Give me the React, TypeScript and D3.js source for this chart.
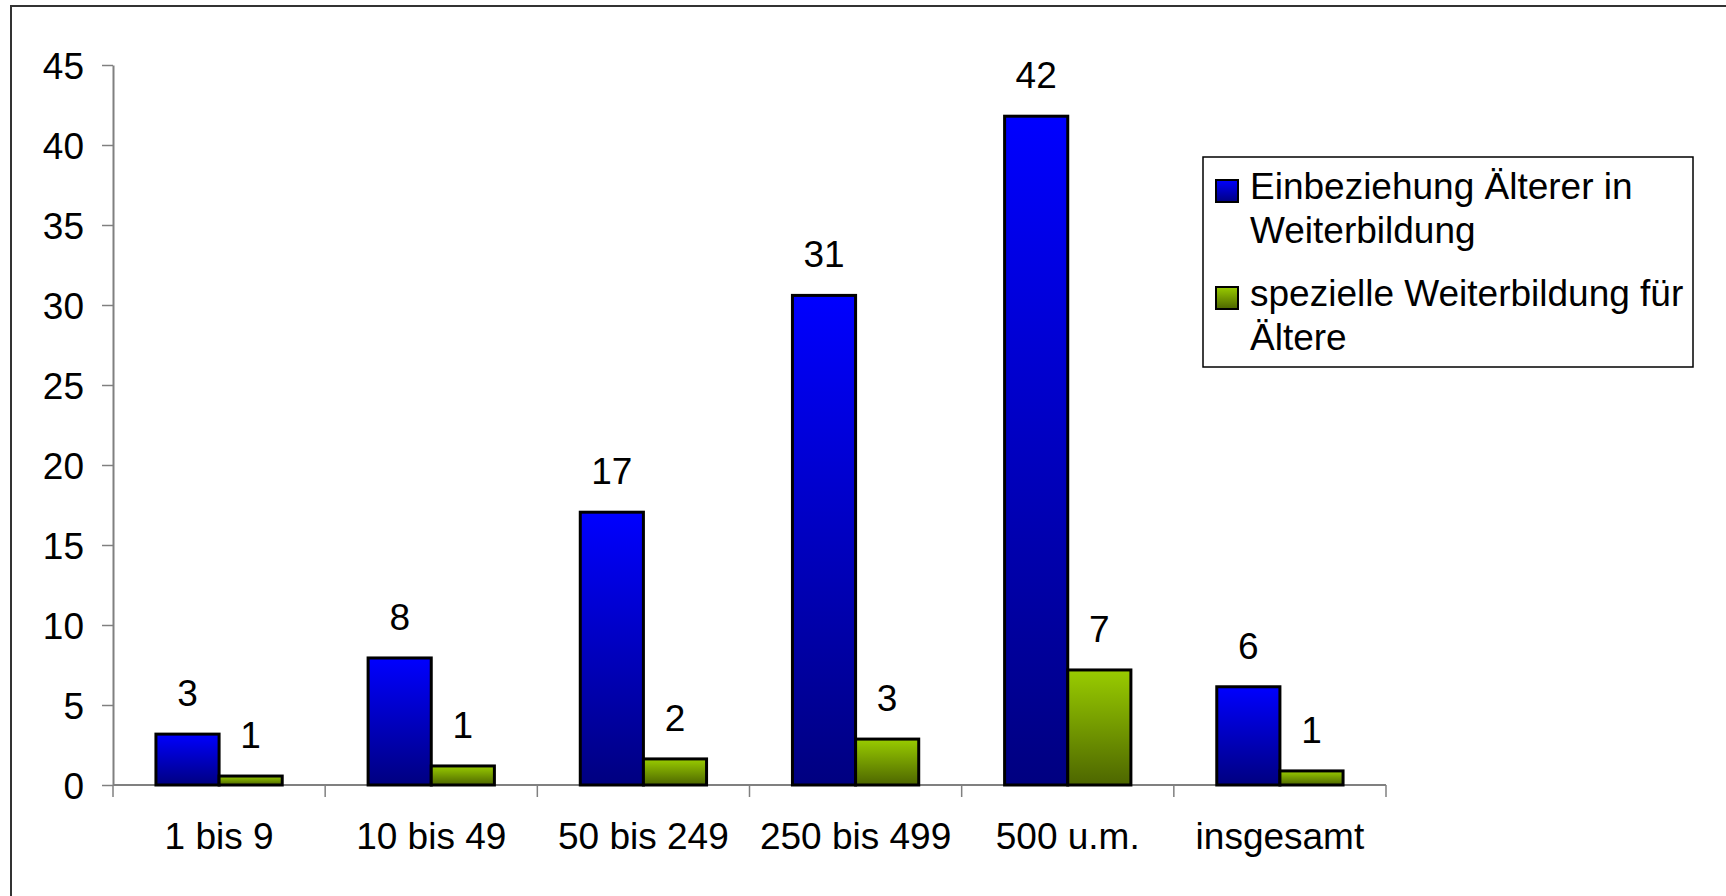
import { useEffect, useRef } from 'react';
import * as d3 from 'd3';

const categories = ['1 bis 9', '10 bis 49', '50 bis 249', '250 bis 499', '500 u.m.', 'insgesamt'];
const einbeziehung = [3.18, 7.94, 17.05, 30.6, 41.8, 6.14];
const spezielle = [0.56, 1.19, 1.63, 2.87, 7.19, 0.88];
const einbeziehungLabels = ['3', '8', '17', '31', '42', '6'];
const spezielleLabels = ['1', '1', '2', '3', '7', '1'];
const yTicks = [0, 5, 10, 15, 20, 25, 30, 35, 40, 45];
const seriesNames = [
  ['Einbeziehung Älterer in', 'Weiterbildung'],
  ['spezielle Weiterbildung für', 'Ältere'],
];

const W = 1726;
const H = 896;
const FONT = 'Liberation Sans, Arial, sans-serif';
const FS = 37;

export default function App() {
  const svgRef = useRef<SVGSVGElement>(null);

  useEffect(() => {
    if (!svgRef.current) return;
    const svg = d3.select(svgRef.current);
    svg.selectAll('*').remove();

    const left = 113;
    const right = 1386;
    const top = 65;
    const bottom = 785;

    // gradients
    const defs = svg.append('defs');
    const grads = [
      { id: 'gBlue', top: '#0000ff', bottom: '#000080' },
      { id: 'gGreen', top: '#99cc00', bottom: '#4d6600' },
    ];
    grads.forEach(g => {
      const lg = defs.append('linearGradient')
        .attr('id', g.id)
        .attr('x1', 0).attr('y1', 0).attr('x2', 0).attr('y2', 1);
      lg.append('stop').attr('offset', '0%').attr('stop-color', g.top);
      lg.append('stop').attr('offset', '100%').attr('stop-color', g.bottom);
    });

    // outer frame (runs off the right and bottom edges)
    svg.append('rect')
      .attr('x', 11).attr('y', 6)
      .attr('width', W + 20).attr('height', H + 20)
      .attr('fill', 'white')
      .attr('stroke', '#333')
      .attr('stroke-width', 2);

    const x = d3.scaleBand().domain(categories).range([left, right]).paddingInner(0).paddingOuter(0);
    const y = d3.scaleLinear().domain([0, 45]).range([bottom, top]);

    const inner = d3.scaleBand().domain(['a', 'b']).range([0, x.bandwidth()]).paddingOuter(0.68).paddingInner(0);

    // y axis
    const yAxis = svg.append('g')
      .attr('transform', `translate(${left},0)`)
      .call(d3.axisLeft(y).tickValues(yTicks).tickSize(11).tickPadding(18).tickSizeOuter(0));
    yAxis.select('.domain').attr('stroke', '#808080').attr('stroke-width', 2);
    yAxis.selectAll('.tick line').attr('stroke', '#808080').attr('stroke-width', 1.5);
    yAxis.selectAll('.tick text')
      .attr('font-family', FONT).attr('font-size', FS).attr('fill', '#000')
      .attr('dy', '0.36em');

    // x axis
    const xAxis = svg.append('g')
      .attr('transform', `translate(0,${bottom})`);
    xAxis.append('line')
      .attr('x1', left).attr('x2', right)
      .attr('stroke', '#808080').attr('stroke-width', 2);
    const xTickPos = categories.map(c => x(c) as number).concat([right]);
    xAxis.selectAll('line.tk')
      .data(xTickPos)
      .join('line')
      .attr('class', 'tk')
      .attr('x1', d => d).attr('x2', d => d)
      .attr('y1', 0).attr('y2', 12)
      .attr('stroke', '#808080').attr('stroke-width', 1.5);
    xAxis.selectAll('text')
      .data(categories)
      .join('text')
      .attr('x', d => (x(d) as number) + x.bandwidth() / 2)
      .attr('y', 64)
      .attr('text-anchor', 'middle')
      .attr('font-family', FONT).attr('font-size', FS)
      .text(d => d);

    // bars
    const series = [
      { key: 'a', values: einbeziehung, labels: einbeziehungLabels, fill: 'url(#gBlue)' },
      { key: 'b', values: spezielle, labels: spezielleLabels, fill: 'url(#gGreen)' },
    ];
    series.forEach(s => {
      const g = svg.append('g');
      g.selectAll('rect')
        .data(categories)
        .join('rect')
        .attr('x', (c) => (x(c) as number) + (inner(s.key) as number))
        .attr('y', (_c, i) => y(s.values[i]))
        .attr('width', inner.bandwidth())
        .attr('height', (_c, i) => bottom - y(s.values[i]))
        .attr('fill', s.fill)
        .attr('stroke', '#000')
        .attr('stroke-width', 3);
      g.selectAll('text')
        .data(categories)
        .join('text')
        .attr('x', (c) => (x(c) as number) + (inner(s.key) as number) + inner.bandwidth() / 2)
        .attr('y', (_c, i) => y(s.values[i]) - 28)
        .attr('text-anchor', 'middle')
        .attr('font-family', FONT).attr('font-size', FS)
        .text((_c, i) => s.labels[i]);
    });

    // legend
    const lg = svg.append('g');
    lg.append('rect')
      .attr('x', 1203).attr('y', 157)
      .attr('width', 490).attr('height', 210)
      .attr('fill', 'white')
      .attr('stroke', '#000').attr('stroke-width', 1.5);
    const legendFills = ['url(#gBlue)', 'url(#gGreen)'];
    const rowY = [199, 306];
    seriesNames.forEach((lines, i) => {
      lg.append('rect')
        .attr('x', 1216).attr('y', rowY[i] - 19)
        .attr('width', 22).attr('height', 22)
        .attr('fill', legendFills[i])
        .attr('stroke', '#000').attr('stroke-width', 2);
      lines.forEach((t, j) => {
        lg.append('text')
          .attr('x', 1250)
          .attr('y', rowY[i] + j * 44)
          .attr('font-family', FONT).attr('font-size', FS)
          .text(t);
      });
    });
  }, []);

  return (
    <svg
      ref={svgRef}
      width={W}
      height={H}
      style={{ position: 'absolute', left: 0, top: 0, display: 'block', background: 'white' }}
    />
  );
}
